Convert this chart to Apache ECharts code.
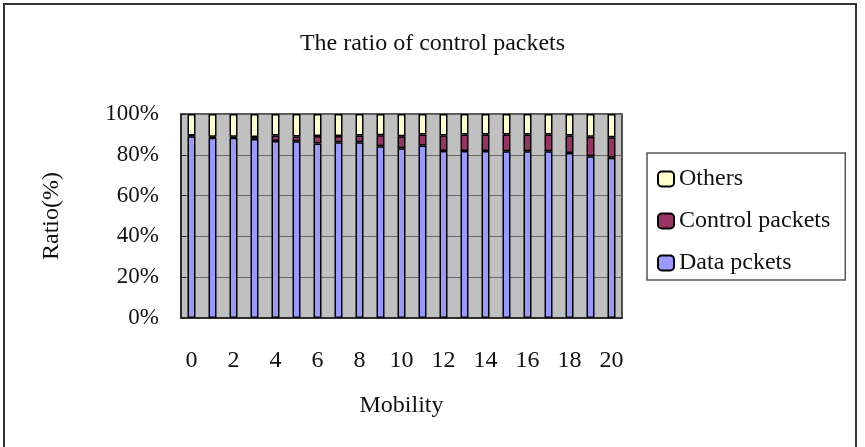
<!DOCTYPE html>
<html>
<head>
<meta charset="utf-8">
<script src="https://cdn.jsdelivr.net/npm/echarts@6/dist/echarts.min.js"></script>
<style>
  html, body {margin: 0; padding: 0; background: #fff;}
  #chart {width: 865px; height: 447px;}
</style>
</head>
<body>
<div id="chart"></div>
<script>
const mobility = ['0','1','2','3','4','5','6','7','8','9','10','11','12','13','14','15','16','17','18','19','20'];
const dataPackets = [89.1, 88.3, 88.3, 87.8, 86.8, 86.6, 85.5, 86.1, 86.1, 84.2, 83.2, 84.5, 81.9, 81.9, 81.9, 81.7, 81.7, 81.7, 80.9, 79.3, 78.5];
const controlPackets = [0.4, 0.5, 0.5, 0.9, 2.6, 2.4, 3.7, 3.1, 3.3, 5.4, 5.9, 5.5, 7.5, 8.1, 8.1, 8.3, 8.3, 8.3, 8.5, 9.5, 10.1];
const others = [10.5, 11.2, 11.2, 11.3, 10.6, 11.0, 10.8, 10.8, 10.6, 10.4, 10.9, 10.0, 10.6, 10.0, 10.0, 10.0, 10.0, 10.0, 10.6, 11.2, 11.4];

const font = 'Liberation Serif';
const myChart = echarts.init(document.getElementById('chart'));

const barSeries = (name, values, color) => ({
    name: name,
    type: 'bar',
    stack: 'total',
    data: values,
    barWidth: 8,
    itemStyle: {color: color, borderColor: '#000', borderWidth: 1.5},
    emphasis: {disabled: true}
});

myChart.setOption({
    animation: false,
    backgroundColor: '#fff',
    textStyle: {fontFamily: font, color: '#000'},
    title: {
        text: 'The ratio of control packets',
        left: 'center',
        top: 27,
        textStyle: {fontFamily: font, fontSize: 24, fontWeight: 'normal', color: '#111'}
    },
    graphic: [{
        type: 'rect',
        shape: {x: 4, y: 4, width: 852, height: 460},
        style: {fill: 'none', stroke: '#333', lineWidth: 2},
        silent: true
    }],
    legend: {
        data: ['Others', 'Control packets', 'Data pckets'],
        orient: 'vertical',
        left: 647,
        top: 153,
        padding: [14, 15, 5, 10],
        itemGap: 18,
        itemWidth: 16,
        itemHeight: 15,
        borderColor: '#555',
        borderWidth: 1.5,
        selectedMode: false,
        textStyle: {fontFamily: font, fontSize: 24, color: '#111', lineHeight: 24}
    },
    grid: {left: 181, right: 243, top: 114, bottom: 129, show: true, backgroundColor: '#c0c0c0', borderColor: '#222', borderWidth: 1.5},
    xAxis: {
        type: 'category',
        data: mobility,
        name: 'Mobility',
        nameLocation: 'middle',
        nameGap: 76,
        nameTextStyle: {fontFamily: font, fontSize: 24, color: '#111'},
        axisLine: {lineStyle: {color: '#222', width: 1.5}},
        axisTick: {inside: true, length: 5, lineStyle: {color: '#222'}},
        axisLabel: {interval: 1, margin: 31, fontFamily: font, fontSize: 24, color: '#111'}
    },
    yAxis: {
        type: 'value',
        min: 0,
        max: 100,
        interval: 20,
        name: 'Ratio(%)',
        nameLocation: 'middle',
        nameGap: 117,
        nameTextStyle: {fontFamily: font, fontSize: 24, color: '#111'},
        axisLine: {show: true, lineStyle: {color: '#222', width: 1.5}},
        axisTick: {show: true, inside: true, length: 5, lineStyle: {color: '#222'}},
        splitLine: {lineStyle: {color: '#666', width: 1}},
        axisLabel: {margin: 22, fontFamily: font, fontSize: 23, color: '#111', formatter: '{value}%'}
    },
    series: [
        barSeries('Data pckets', dataPackets, '#9999ff'),
        barSeries('Control packets', controlPackets, '#993366'),
        barSeries('Others', others, '#ffffcc')
    ]
});
</script>
</body>
</html>
